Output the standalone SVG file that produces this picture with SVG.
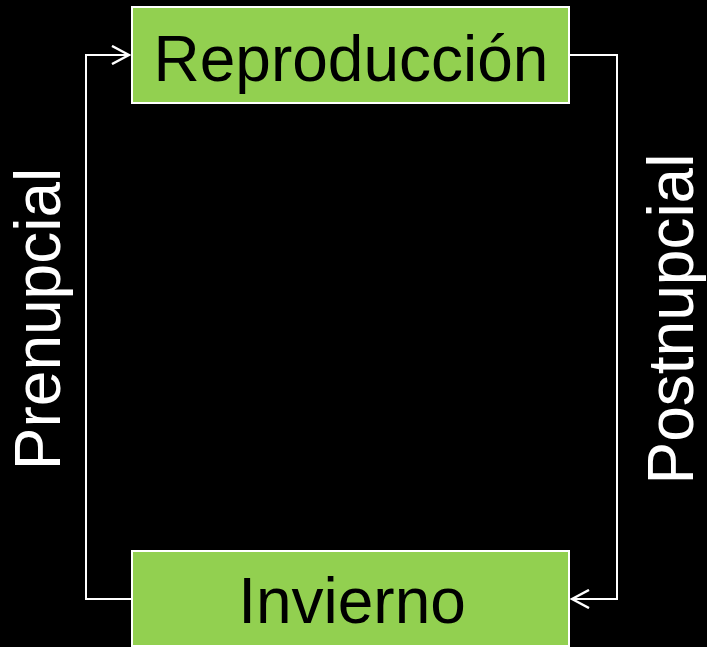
<svg xmlns="http://www.w3.org/2000/svg" width="707" height="647" viewBox="0 0 707 647">
<style>
.box{fill:#92D050;stroke:#FFFFFF;stroke-width:2}
.lbl{font-family:"Liberation Sans",Arial,sans-serif;font-size:64px;text-anchor:middle}
.conn{fill:none;stroke:#FFFFFF;stroke-width:2}
</style>
<defs>
<marker id="arr" viewBox="0 0 20 20" refX="18" refY="10" markerWidth="20" markerHeight="20" markerUnits="userSpaceOnUse" orient="auto">
<polyline points="1,1 18,10 1,19" fill="none" stroke="#FFFFFF" stroke-width="2.5"/>
</marker>
</defs>
<rect width="707" height="647" fill="#000000"/>
<g id="connectors">
<path class="conn" d="M131,599 H86 V55 H129" marker-end="url(#arr)"/>
<path class="conn" d="M569,55 H617 V599 H572" marker-end="url(#arr)"/>
<text class="lbl" fill="#FFFFFF" transform="translate(60,319) rotate(-90)">Prenupcial</text>
<text class="lbl" fill="#FFFFFF" transform="translate(693,319) rotate(-90)">Postnupcial</text>
</g>
<g id="reproduccion">
<rect class="box" x="132" y="7" width="437" height="96"/>
<text class="lbl" x="351" y="81" fill="#000000">Reproducción</text>
</g>
<g id="invierno">
<rect class="box" x="132" y="551" width="437" height="95"/>
<text class="lbl" x="352" y="623" fill="#000000">Invierno</text>
</g>
</svg>
